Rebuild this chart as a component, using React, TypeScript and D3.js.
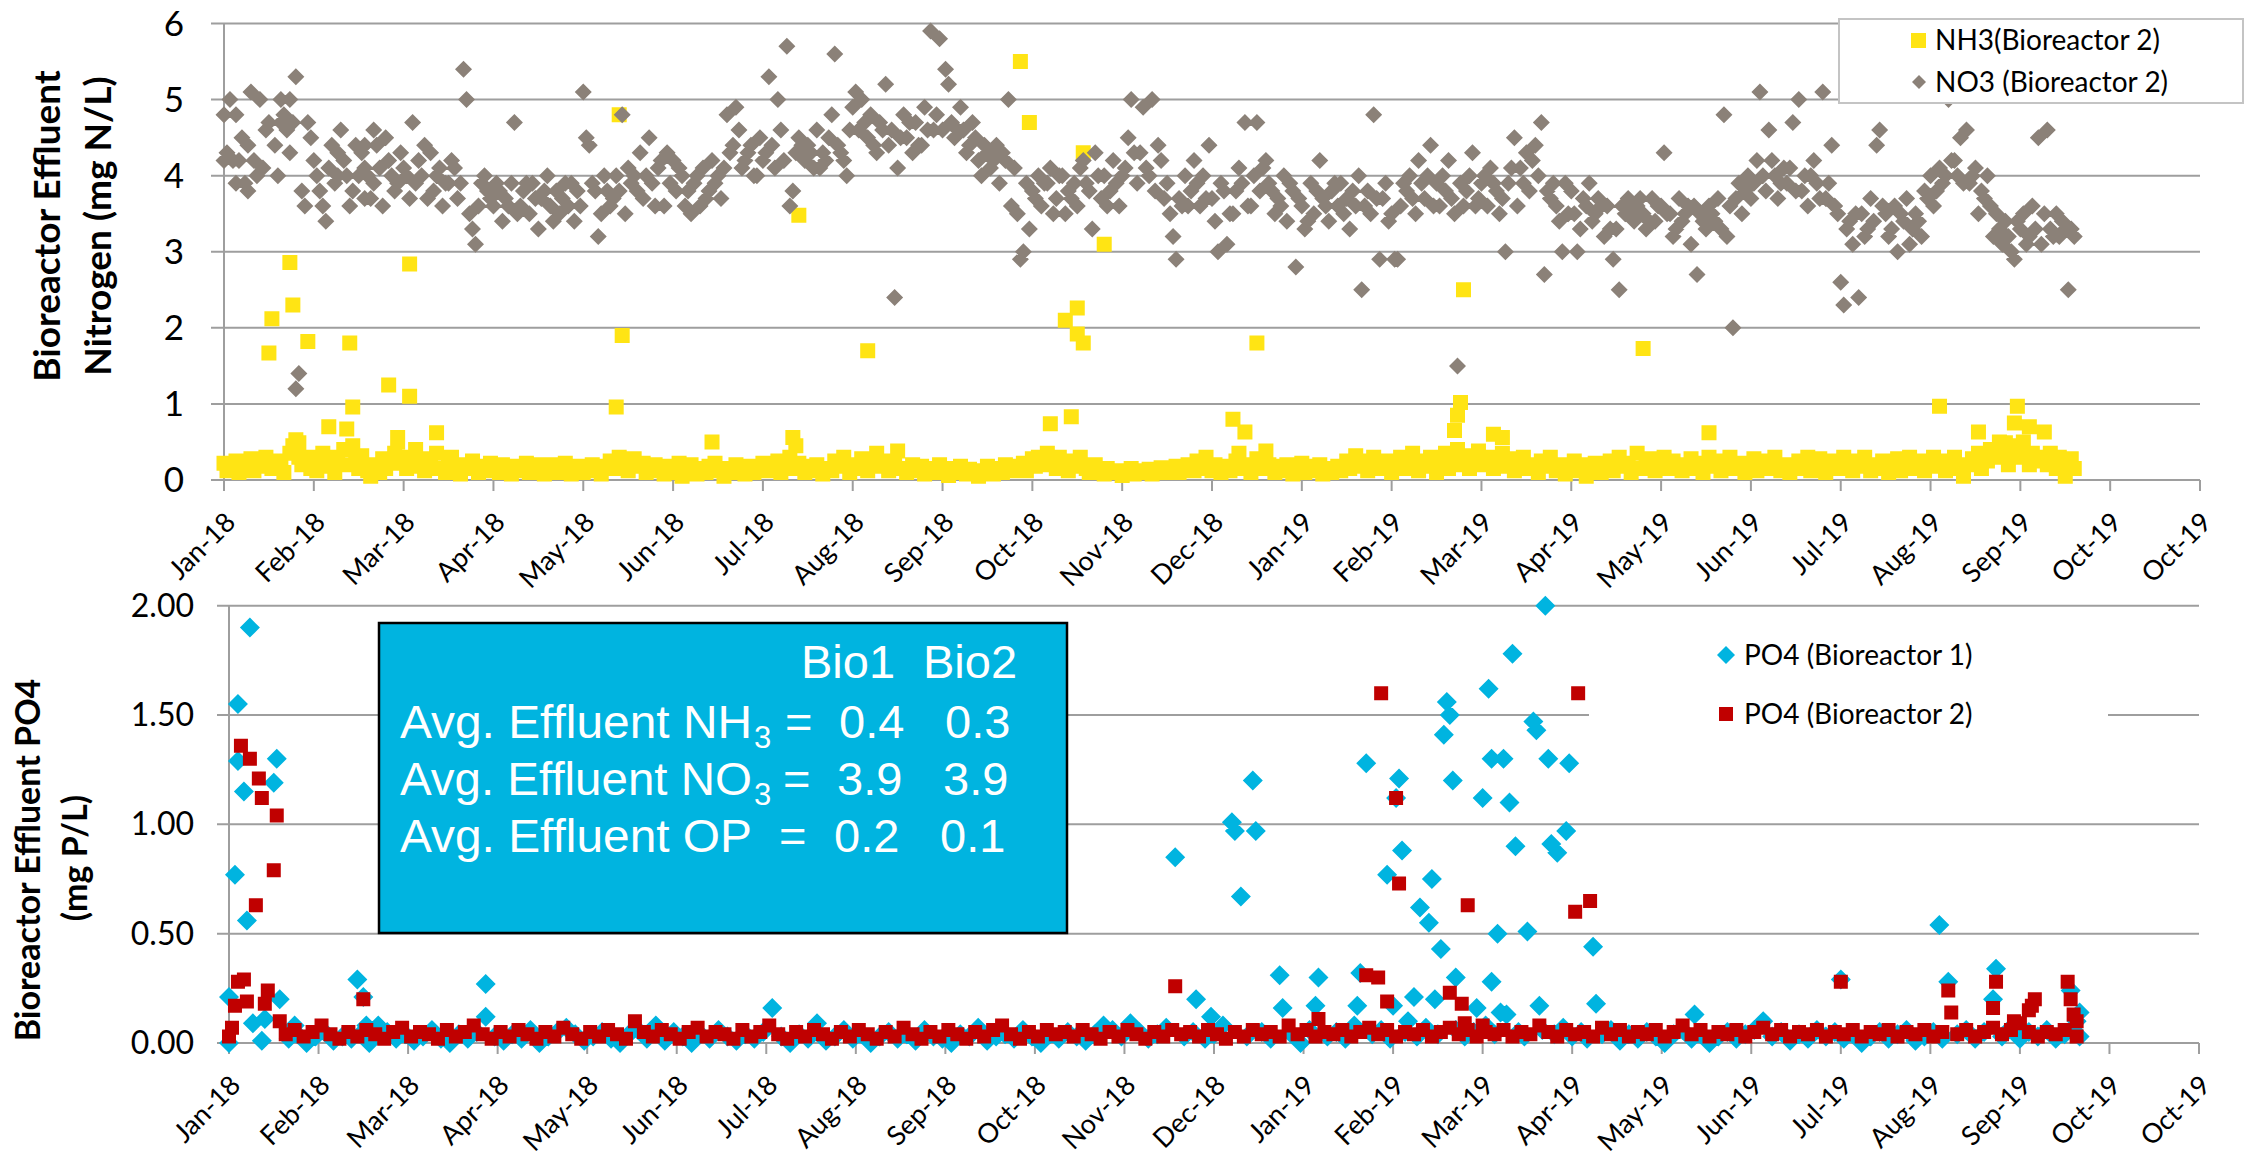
import React from "react";
import * as d3 from "d3";

// ---------- DATA (day = days since 1 Jan 2018) ----------
const xTickDays = [8, 38, 68, 98, 128, 158, 188, 218, 248, 278, 308, 338, 368, 398, 428, 458, 488, 518, 548, 578, 608, 638, 668];
const xTickLabels = ["Jan-18", "Feb-18", "Mar-18", "Apr-18", "May-18", "Jun-18", "Jul-18", "Aug-18", "Sep-18", "Oct-18", "Nov-18", "Dec-18", "Jan-19", "Feb-19", "Mar-19", "Apr-19", "May-19", "Jun-19", "Jul-19", "Aug-19", "Sep-19", "Oct-19", "Oct-19"];
const topYTicks = [0, 1, 2, 3, 4, 5, 6];
const bottomYTicks = [0, 0.5, 1, 1.5, 2];

const nh3Base: [number, number][] = [[8,.22],[9,.12],[10,.18],[12,.25],[13,.1],[14,.2],[16,.15],[17,.28],[18,.12],[20,.22],[21,.18],[22,.3],[24,.15],[26,.25],[27,.2],[28,.1],[30,.35],[31,.45],[33,.3],[34,.2],[35,.25],[37,.15],[38,.3],[39,.12],[40,.22],[41,.35],[43,.18],[44,.25],[45,.1],[46,.3],[48,.4],[49,.2],[51,.45],[52,.28],[53,.15],[54,.32],[56,.12],[57,.05],[58,.2],[60,.1],[61,.28],[62,.15],[64,.22],[65,.35],[66,.5],[68,.3],[69,.15],[71,.25],[72,.4],[73,.18],[75,.12],[76,.28],[77,.2],[79,.35],[80,.15],[82,.1],[83,.22],[84,.3],[86,.18],[87,.08],[88,.2],[90,.15],[91,.25],[93,.1],[94,.18],[95,.12],[97,.22],[98,.15],[100,.1],[101,.2],[103,.13],[104,.08],[106,.18],[107,.12],[109,.22],[110,.1],[112,.15],[113,.2],[115,.08],[116,.14],[118,.2],[119,.1],[121,.16],[122,.22],[124,.08],[125,.12],[127,.18],[128,.1],[130,.14],[131,.2],[133,.12],[134,.08],[136,.18],[137,.25],[139,.15],[140,.3],[142,.2],[143,.12],[145,.28],[146,.18],[148,.22],[149,.1],[151,.15],[152,.2],[154,.12],[155,.08],[157,.18],[158,.1],[160,.22],[161,.05],[163,.12],[164,.2],[166,.08],[167,.15],[169,.1],[170,.18],[172,.22],[173,.12],[175,.05],[176,.15],[178,.1],[179,.2],[181,.12],[182,.08],[184,.18],[185,.1],[187,.15],[188,.22],[190,.12],[191,.18],[193,.25],[194,.1],[196,.2],[197,.3],[199,.15],[200,.22],[202,.1],[203,.18],[205,.12],[206,.2],[208,.08],[209,.15],[211,.12],[212,.25],[214,.18],[215,.3],[217,.1],[218,.2],[220,.15],[221,.28],[223,.12],[224,.2],[226,.35],[227,.18],[229,.25],[230,.12],[232,.2],[233,.38],[235,.15],[236,.1],[238,.2],[239,.12],[241,.18],[242,.08],[244,.15],[245,.1],[247,.2],[248,.12],[250,.06],[251,.15],[253,.1],[254,.18],[256,.08],[257,.14],[259,.1],[260,.05],[262,.12],[263,.18],[265,.08],[266,.15],[268,.1],[269,.2],[271,.12],[272,.18],[273,.15],[275,.22],[276,.12],[278,.28],[279,.18],[280,.3],[282,.2],[283,.35],[285,.25],[286,.15],[287,.3],[288,.2],[290,.12],[291,.25],[292,.18],[294,.3],[296,.15],[297,.1],[299,.2],[300,.12],[302,.08],[303,.15],[305,.1],[306,.12],[308,.06],[309,.1],[311,.15],[312,.08],[314,.12],[315,.1],[317,.14],[318,.08],[320,.12],[321,.16],[323,.1],[324,.14],[326,.18],[327,.1],[329,.15],[330,.2],[332,.12],[333,.25],[335,.15],[336,.3],[338,.12],[339,.2],[341,.1],[342,.18],[344,.12],[346,.25],[347,.35],[348,.15],[350,.2],[351,.1],[353,.28],[354,.15],[356,.38],[357,.2],[359,.1],[360,.18],[362,.12],[363,.2],[365,.08],[366,.15],[368,.22],[369,.1],[371,.18],[372,.12],[374,.2],[375,.08],[377,.15],[378,.1],[380,.18],[381,.12],[383,.25],[384,.15],[386,.32],[387,.18],[389,.25],[390,.12],[392,.3],[393,.2],[395,.15],[396,.25],[398,.1],[399,.22],[401,.3],[402,.15],[404,.2],[405,.35],[407,.12],[408,.25],[410,.18],[411,.3],[413,.1],[414,.25],[416,.35],[417,.15],[418,.28],[420,.4],[421,.2],[423,.32],[424,.15],[426,.28],[427,.38],[429,.2],[430,.3],[432,.15],[433,.25],[435,.35],[436,.18],[438,.28],[439,.12],[441,.22],[442,.3],[444,.15],[445,.2],[447,.1],[448,.25],[450,.18],[451,.3],[453,.12],[454,.2],[456,.08],[457,.18],[459,.25],[460,.12],[462,.2],[463,.05],[465,.15],[466,.22],[468,.1],[469,.18],[471,.25],[472,.12],[474,.3],[475,.18],[477,.22],[478,.1],[480,.35],[481,.15],[483,.2],[484,.28],[486,.12],[487,.22],[489,.3],[490,.15],[492,.25],[493,.18],[495,.12],[496,.2],[498,.28],[499,.15],[501,.22],[502,.1],[504,.3],[505,.18],[507,.25],[508,.12],[510,.2],[511,.3],[513,.15],[514,.22],[516,.1],[517,.18],[519,.28],[520,.12],[522,.2],[523,.25],[525,.15],[526,.3],[528,.12],[529,.2],[531,.1],[532,.18],[534,.25],[535,.15],[537,.3],[538,.12],[540,.2],[541,.28],[543,.1],[544,.18],[546,.25],[547,.15],[549,.3],[550,.2],[552,.12],[553,.25],[555,.18],[556,.3],[558,.12],[559,.2],[561,.15],[562,.25],[564,.1],[565,.18],[567,.28],[568,.12],[570,.22],[571,.3],[573,.15],[574,.25],[576,.12],[577,.2],[579,.3],[580,.18],[582,.25],[583,.12],[585,.22],[586,.3],[588,.15],[589,.05],[591,.2],[592,.28],[594,.35],[595,.15],[597,.25],[598,.4],[600,.3],[601,.5],[603,.35],[604,.2],[605,.45],[607,.3],[608,.35],[609,.5],[611,.2],[612,.35],[614,.25],[615,.3],[617,.2],[618,.35],[620,.15],[621,.3],[622,.25],[623,.05],[624,.18],[625,.28],[626,.15]];
const nh3Peaks: [number, number][] = [[23,1.67],[24,2.12],[30,2.86],[31,2.3],[32,.53],[33,.49],[36,1.82],[43,.7],[49,.67],[50,1.8],[51,.96],[63,1.25],[70,1.1],[70,2.84],[66,.56],[79,.62],[139,.96],[140,4.8],[141,1.9],[171,.5],[198,.56],[199,.45],[200,3.48],[223,1.7],[274,5.5],[277,4.7],[284,.74],[289,2.1],[291,.83],[293,2.26],[293,1.92],[295,1.8],[295,4.3],[302,3.1],[345,.8],[349,.63],[353,1.8],[419,.65],[420,.85],[421,1.02],[422,2.5],[432,.6],[435,.56],[482,1.73],[504,.62],[581,.97],[594,.63],[603,.49],[606,.75],[607,.97],[611,.7],[616,.63]];

const no3Vals: [number, number][] = [[8,4.8],[8,4.2],[10,5.0],[11,4.2],[12,4.8],[12,3.9],[13,4.2],[15,3.9],[16,3.8],[16,4.4],[17,5.1],[18,4.2],[19,4.0],[20,5.0],[22,4.6],[27,5.0],[27,4.7],[29,4.6],[30,5.0],[30,4.3],[31,4.7],[32,5.3],[32,1.2],[33,1.4],[34,3.8],[35,3.6],[36,4.7],[38,4.2],[39,4.0],[40,3.8],[41,3.6],[42,3.4],[44,4.4],[46,4.3],[46,4.0],[47,4.6],[49,4.0],[50,3.6],[52,4.4],[53,4.0],[55,4.1],[55,3.7],[55,4.4],[58,4.6],[58,3.9],[60,4.1],[61,3.6],[62,4.5],[64,4.0],[65,3.8],[67,4.3],[68,4.1],[70,3.7],[71,4.7],[72,3.9],[74,4.0],[75,4.4],[77,4.3],[78,3.8],[80,4.1],[81,3.6],[83,3.9],[84,4.2],[86,3.7],[87,3.9],[88,5.4],[89,5.0],[90,3.5],[91,3.3],[92,3.1],[93,3.6],[95,4.0],[96,3.8],[98,3.6],[99,3.9],[101,3.4],[102,3.7],[104,3.9],[105,4.7],[107,3.6],[108,3.8],[110,3.5],[111,3.9],[113,3.3],[114,3.7],[116,4.0],[117,3.6],[119,3.8],[120,3.5],[122,3.9],[123,3.6],[125,3.4],[126,3.8],[128,5.1],[129,4.5],[130,4.4],[131,3.9],[133,3.2],[134,3.5],[136,3.8],[137,3.6],[139,4.0],[140,3.8],[141,4.8],[142,3.5],[144,3.9],[145,4.0],[147,4.3],[148,3.7],[150,4.5],[151,3.9],[153,4.1],[155,3.6],[156,4.3],[158,4.2],[159,3.8],[161,4.0],[162,3.6],[164,3.5],[165,3.9],[167,3.6],[168,4.1],[170,3.8],[171,4.2],[173,4.0],[174,3.7],[176,4.8],[177,4.3],[179,4.9],[180,4.6],[181,4.1],[183,4.3],[184,4.4],[186,4.0],[187,4.5],[188,4.2],[190,5.3],[191,4.4],[192,4.1],[193,5.0],[194,4.6],[196,5.7],[197,3.6],[198,3.8],[199,4.3],[200,4.5],[202,4.2],[203,4.4],[205,4.1],[206,4.6],[208,4.3],[209,4.2],[211,4.8],[212,5.6],[213,4.4],[215,4.2],[216,4.0],[218,4.9],[219,5.1],[220,4.6],[221,5.0],[223,4.5],[224,4.8],[226,4.3],[227,4.7],[229,5.2],[230,4.4],[231,4.6],[232,2.4],[233,4.1],[235,4.8],[236,4.5],[238,4.3],[239,4.7],[241,4.4],[242,4.9],[244,5.9],[245,4.6],[246,4.8],[247,5.8],[248,4.6],[249,5.4],[250,5.2],[251,4.7],[252,4.5],[254,4.9],[255,4.6],[257,4.4],[258,4.7],[260,4.2],[261,4.0],[263,4.3],[264,4.1],[266,4.4],[267,3.9],[269,4.2],[270,5.0],[271,3.6],[272,4.1],[273,3.5],[274,2.9],[275,3.0],[277,3.3],[278,3.8],[280,4.0],[281,3.6],[283,3.9],[284,4.1],[286,3.7],[287,4.0],[289,3.5],[290,3.8],[292,3.9],[293,3.6],[295,4.2],[296,3.9],[298,3.3],[299,4.3],[301,3.7],[302,4.0],[304,3.8],[305,4.2],[307,3.6],[308,4.0],[310,4.5],[311,5.0],[312,4.3],[313,3.9],[315,4.9],[316,4.1],[318,5.0],[319,3.8],[321,4.2],[322,3.7],[324,3.5],[325,3.2],[326,2.9],[328,3.6],[329,4.0],[331,3.8],[332,4.2],[334,3.6],[335,4.0],[337,4.4],[338,3.7],[340,3.0],[341,3.9],[343,3.1],[344,3.5],[346,3.8],[347,4.1],[349,4.7],[350,3.6],[352,4.0],[353,4.7],[354,3.8],[356,4.2],[357,3.9],[359,3.5],[360,3.7],[362,4.0],[363,3.4],[365,3.8],[366,2.8],[368,3.6],[369,3.3],[371,3.9],[372,3.5],[374,4.2],[375,3.7],[377,3.4],[378,3.8],[380,3.6],[381,3.9],[383,3.7],[384,3.3],[386,3.6],[387,4.0],[388,2.5],[390,3.8],[391,3.5],[392,4.8],[393,3.7],[394,2.9],[396,3.9],[397,3.4],[399,2.9],[400,2.9],[401,3.6],[403,3.8],[404,4.0],[406,3.5],[407,4.2],[409,3.7],[410,4.0],[411,4.4],[413,3.9],[414,3.6],[416,3.8],[417,4.2],[419,3.5],[420,1.5],[421,3.9],[422,3.6],[424,4.0],[425,4.3],[427,3.7],[428,3.9],[430,3.6],[431,4.1],[433,3.8],[434,3.5],[436,3.0],[437,3.9],[439,4.5],[440,3.6],[441,4.1],[443,4.3],[444,3.8],[446,4.4],[447,4.0],[448,4.7],[449,2.7],[451,3.7],[452,3.9],[454,3.4],[455,3.0],[457,3.5],[458,3.8],[460,3.0],[461,3.3],[463,3.6],[464,3.9],[466,3.5],[467,3.7],[469,3.2],[470,3.6],[472,2.9],[473,3.3],[474,2.5],[476,3.5],[477,3.7],[479,3.4],[480,3.6],[482,3.5],[483,3.3],[485,3.7],[486,3.4],[488,3.6],[489,4.3],[491,3.5],[492,3.2],[494,3.7],[495,3.4],[497,3.6],[498,3.1],[500,2.7],[501,3.5],[503,3.3],[504,3.6],[506,3.4],[507,3.7],[509,4.8],[510,3.2],[511,3.6],[512,2.0],[514,3.9],[515,3.5],[517,4.0],[518,3.7],[520,4.2],[521,5.1],[523,3.8],[524,4.6],[526,4.0],[527,3.7],[529,4.1],[530,3.9],[532,4.7],[533,3.8],[534,5.0],[536,4.0],[537,3.6],[539,4.2],[540,3.9],[542,5.1],[543,3.7],[545,4.4],[546,3.6],[548,2.6],[549,2.3],[551,3.4],[552,3.1],[554,2.4],[555,3.5],[557,3.3],[558,3.7],[560,4.4],[561,4.6],[563,3.5],[564,3.2],[566,3.6],[567,3.0],[569,3.4],[570,3.7],[572,3.3],[573,3.5],[575,3.2],[576,3.8],[578,4.0],[579,3.6],[581,4.1],[582,3.9],[584,5.0],[585,4.2],[587,4.0],[588,4.5],[590,4.6],[591,3.9],[593,4.1],[594,3.5],[596,3.7],[597,4.0],[599,3.2],[600,3.5],[602,3.1],[603,3.4],[605,3.0],[606,2.9],[608,3.3],[609,3.5],[611,3.2],[612,3.6],[614,4.5],[615,3.1],[617,4.6],[618,3.3],[620,3.5],[621,3.2],[623,3.3],[624,2.5],[626,3.2]];
const no3More: [number, number][] = [[9,4.3],[14,4.5],[21,4.1],[23,4.7],[25,4.4],[26,4.0],[28,4.8],[37,4.5],[43,4.1],[45,3.9],[48,4.2],[51,3.8],[54,4.3],[56,4.0],[57,3.7],[59,4.4],[63,4.2],[66,3.9],[69,4.0],[73,4.2],[76,3.7],[79,4.0],[82,3.9],[85,4.1],[94,3.9],[97,3.7],[100,3.8],[103,3.6],[106,3.5],[109,3.9],[112,3.7],[115,3.8],[118,3.4],[121,3.7],[124,3.9],[127,3.6],[132,3.8],[135,4.0],[138,3.7],[143,4.1],[146,3.8],[149,4.0],[152,3.6],[154,4.2],[157,3.9],[160,4.1],[163,3.8],[166,4.0],[169,3.7],[172,3.9],[175,4.1],[178,4.4],[182,4.2],[185,4.0],[189,4.3],[195,4.2],[201,4.4],[204,4.3],[207,4.1],[210,4.5],[214,4.3],[217,4.6],[222,4.7],[225,4.4],[228,4.6],[234,4.5],[237,4.7],[240,4.4],[243,4.6],[253,4.6],[256,4.3],[259,4.5],[262,4.4],[265,4.2],[268,4.3],[276,3.9],[279,3.7],[282,3.9],[285,3.5],[288,4.0],[291,3.7],[294,4.1],[297,3.8],[300,4.0],[303,3.6],[306,3.9],[309,4.1],[314,4.3],[317,4.0],[320,4.4],[323,3.9],[327,3.7],[330,3.6],[333,3.9],[336,3.7],[339,3.4],[342,3.8],[345,3.5],[348,3.9],[351,3.6],[355,4.1],[358,3.8],[361,3.6],[364,3.9],[367,3.7],[370,3.4],[373,3.8],[376,3.6],[379,3.9],[382,3.5],[385,3.8],[389,3.6],[395,3.7],[398,3.5],[402,3.9],[405,3.7],[408,3.9],[412,3.6],[415,4.0],[418,3.7],[423,3.8],[426,3.6],[429,4.0],[432,3.9],[435,3.7],[438,4.1],[442,3.9],[445,4.2],[450,3.8],[453,3.6],[456,3.9],[459,3.5],[462,3.7],[465,3.4],[468,3.6],[471,3.3],[475,3.6],[478,3.5],[481,3.7],[484,3.4],[487,3.6],[490,3.5],[493,3.3],[496,3.5],[499,3.6],[502,3.4],[505,3.5],[508,3.3],[513,3.7],[516,3.8],[519,3.9],[522,4.0],[525,4.2],[528,3.9],[531,4.1],[535,3.8],[538,4.0],[541,3.7],[544,3.9],[547,3.5],[550,3.3],[553,3.5],[556,3.2],[559,3.4],[562,3.6],[565,3.3],[568,3.5],[571,3.1],[574,3.4],[577,3.7],[580,3.8],[583,4.0],[586,4.2],[589,3.9],[592,4.0],[595,3.8],[598,3.6],[601,3.3],[604,3.2],[607,3.4],[610,3.1],[613,3.3],[616,3.5],[619,3.2],[622,3.4],[625,3.3]];

const po4Bio1Base: [number, number][] = [[28,.02],[31,.04],[34,.0],[37,.03],[40,.05],[43,.01],[46,.03],[49,.02],[52,.04],[55,.0],[58,.08],[61,.05],[64,.02],[67,.04],[70,.01],[73,.03],[76,.06],[79,.02],[82,.0],[85,.04],[88,.02],[91,.05],[97,.03],[100,.01],[103,.04],[106,.02],[109,.06],[112,.0],[115,.03],[118,.05],[121,.07],[124,.04],[127,.01],[130,.03],[133,.05],[136,.02],[139,.0],[142,.04],[145,.06],[148,.02],[151,.08],[154,.01],[157,.05],[160,.03],[163,.0],[166,.04],[169,.02],[172,.06],[175,.03],[178,.01],[181,.04],[184,.02],[187,.05],[193,.03],[196,.0],[199,.04],[202,.02],[205,.09],[208,.01],[211,.03],[214,.06],[217,.02],[220,.04],[223,.0],[226,.03],[229,.05],[232,.02],[235,.04],[238,.01],[241,.06],[244,.03],[247,.02],[250,.0],[253,.04],[256,.03],[259,.07],[262,.01],[265,.03],[268,.04],[271,.02],[274,.06],[277,.03],[280,.0],[283,.04],[286,.02],[289,.05],[292,.03],[295,.01],[298,.04],[301,.08],[304,.06],[307,.03],[310,.09],[313,.05],[316,.02],[319,.04],[322,.07],[328,.03],[331,.05],[335,.02],[338,.04],[341,.08],[349,.03],[354,.05],[357,.02],[364,.04],[367,.0],[370,.06],[376,.03],[379,.05],[382,.02],[385,.08],[391,.04],[394,.06],[397,.02],[402,.05],[406,.03],[409,.07],[413,.04],[419,.06],[422,.03],[425,.05],[429,.08],[432,.04],[440,.05],[442,.03],[448,.06],[452,.04],[455,.07],[458,.03],[461,.05],[463,.02],[468,.04],[471,.06],[474,.01],[477,.04],[480,.02],[483,.05],[486,.03],[489,.0],[492,.04],[495,.06],[498,.02],[501,.04],[504,.0],[507,.03],[510,.05],[513,.02],[516,.04],[519,.06],[522,.1],[525,.03],[528,.05],[531,.01],[534,.04],[537,.02],[540,.06],[543,.03],[546,.05],[549,.02],[552,.04],[555,.0],[558,.03],[561,.05],[564,.02],[567,.04],[570,.06],[573,.01],[576,.03],[579,.05],[582,.02],[587,.04],[590,.06],[593,.02],[596,.05],[602,.03],[605,.07],[608,.02],[611,.05],[614,.03],[617,.06],[620,.02],[623,.04],[626,.06],[628,.03]];
const po4Bio1Peaks: [number, number][] = [[8,.0],[8,.21],[10,.77],[11,1.55],[11,1.29],[13,1.15],[14,.56],[15,1.9],[16,.09],[19,.01],[20,.11],[23,1.19],[24,1.3],[25,.2],[30,.08],[51,.29],[53,.21],[54,.08],[94,.27],[94,.12],[190,.16],[325,.85],[332,.2],[337,.12],[344,1.01],[345,.97],[347,.67],[351,1.2],[352,.97],[360,.31],[361,.16],[372,.17],[373,.3],[386,.17],[387,.32],[389,1.28],[396,.77],[398,.17],[399,1.12],[400,1.21],[401,.88],[403,.1],[405,.21],[407,.62],[410,.55],[411,.75],[412,.2],[414,.43],[415,1.41],[416,1.56],[417,1.5],[418,1.2],[419,.3],[426,.16],[428,1.12],[430,1.62],[431,1.3],[431,.28],[433,.5],[434,.14],[435,1.3],[436,.13],[437,1.1],[438,1.78],[439,.9],[443,.51],[445,1.47],[446,1.43],[447,.17],[449,2.0],[450,1.3],[451,.91],[453,.87],[456,.97],[457,1.28],[465,.44],[466,.18],[499,.13],[548,.29],[581,.54],[584,.28],[599,.2],[600,.34],[625,.24],[627,.1],[628,.14]];

const po4Bio2Base: [number, number][] = [[27,.04],[30,.06],[33,.03],[36,.05],[39,.08],[42,.04],[45,.02],[48,.05],[51,.03],[54,.06],[57,.04],[60,.02],[63,.05],[66,.07],[69,.03],[72,.05],[75,.04],[78,.02],[81,.06],[84,.03],[87,.05],[90,.08],[93,.04],[96,.02],[99,.05],[102,.03],[105,.06],[108,.04],[111,.02],[114,.05],[117,.03],[120,.07],[123,.04],[126,.02],[129,.05],[132,.03],[135,.06],[138,.04],[141,.02],[144,.1],[147,.05],[150,.03],[153,.06],[156,.04],[159,.02],[162,.05],[165,.07],[168,.03],[171,.05],[174,.04],[177,.02],[180,.06],[183,.03],[186,.05],[189,.08],[192,.04],[195,.02],[198,.05],[201,.03],[204,.06],[207,.04],[210,.02],[213,.05],[216,.03],[219,.06],[222,.04],[225,.02],[228,.05],[231,.03],[234,.07],[237,.04],[240,.02],[243,.05],[246,.03],[249,.06],[252,.04],[255,.02],[258,.05],[261,.03],[264,.06],[267,.08],[270,.04],[273,.02],[276,.05],[279,.03],[282,.06],[285,.04],[288,.05],[291,.03],[294,.06],[297,.04],[300,.02],[303,.05],[306,.03],[309,.06],[312,.04],[315,.02],[318,.05],[321,.03],[324,.06],[327,.04],[330,.05],[333,.03],[336,.06],[339,.04],[342,.02],[345,.05],[348,.03],[351,.06],[354,.04],[357,.05],[360,.03],[363,.08],[366,.04],[369,.06],[372,.03],[375,.05],[378,.04],[381,.06],[384,.03],[387,.05],[390,.07],[393,.04],[396,.06],[399,.03],[402,.05],[405,.04],[408,.06],[411,.03],[414,.05],[417,.07],[420,.04],[423,.06],[426,.03],[429,.05],[432,.04],[435,.06],[438,.03],[441,.05],[444,.04],[447,.08],[450,.05],[453,.03],[456,.06],[459,.04],[462,.05],[465,.03],[468,.07],[471,.04],[474,.06],[477,.03],[480,.05],[483,.04],[486,.06],[489,.03],[492,.05],[495,.08],[498,.04],[501,.06],[504,.03],[507,.05],[510,.04],[513,.06],[516,.03],[519,.05],[522,.07],[525,.04],[528,.06],[531,.03],[534,.05],[537,.04],[540,.06],[543,.03],[546,.05],[549,.04],[552,.06],[555,.03],[558,.05],[561,.04],[564,.06],[567,.03],[570,.05],[573,.04],[576,.06],[579,.03],[582,.05],[587,.04],[590,.06],[593,.03],[596,.05],[599,.07],[602,.04],[605,.06],[608,.09],[611,.05],[614,.03],[617,.05],[620,.04],[623,.06],[627,.03]];
const po4Bio2Peaks: [number, number][] = [[8,.03],[9,.07],[10,.17],[11,.28],[12,1.36],[13,.29],[14,.19],[15,1.3],[17,.63],[18,1.21],[19,1.12],[20,.18],[21,.24],[23,.79],[24,1.04],[25,.1],[53,.2],[325,.26],[373,.11],[389,.31],[393,.3],[394,1.6],[396,.19],[399,1.12],[400,.73],[417,.23],[421,.18],[422,.09],[423,.63],[428,.08],[459,.6],[460,1.6],[464,.65],[548,.28],[584,.24],[585,.14],[599,.16],[600,.28],[606,.1],[611,.15],[612,.17],[613,.2],[624,.28],[625,.2],[626,.13],[627,.1]];

const topLegend = ["NH3(Bioreactor 2)", "NO3 (Bioreactor 2)"];
const bottomLegend = ["PO4 (Bioreactor 1)", "PO4 (Bioreactor 2)"];
const topTitle = ["Bioreactor Effluent", "Nitrogen (mg N/L)"];
const bottomTitle = ["Bioreactor Effluent PO4", "(mg P/L)"];
const boxHeader = ["Bio1", "Bio2"];
const boxRows = [
  { label: "Avg. Effluent NH", sub: "3", bio1: "0.4", bio2: "0.3" },
  { label: "Avg. Effluent NO", sub: "3", bio1: "3.9", bio2: "3.9" },
  { label: "Avg. Effluent OP", sub: "", bio1: "0.2", bio2: "0.1" },
];

// ---------- STYLE ----------
const C_NH3 = "#FFE414";
const C_NO3 = "#8B8178";
const C_BIO1 = "#00B4E0";
const C_BIO2 = "#C00000";
const C_GRID = "#9E9E9E";
const FONT = "Lato, 'Open Sans', sans-serif";
const BOXFONT = "'Liberation Sans', Arial, sans-serif";

function diamondsPath(pts: [number, number][], x: any, y: any, r: number) {
  return pts.map(([d, v]) => {
    const cx = x(d), cy = y(v);
    return `M${cx},${cy - r}L${cx + r},${cy}L${cx},${cy + r}L${cx - r},${cy}Z`;
  }).join("");
}
function squaresPath(pts: [number, number][], x: any, y: any, s: number) {
  const h = s / 2;
  return pts.map(([d, v]) => {
    const cx = x(d), cy = y(v);
    return `M${cx - h},${cy - h}h${s}v${s}h${-s}Z`;
  }).join("");
}

function XAxis({ x, y0 }: { x: any; y0: number }) {
  return (
    <g>
      <line x1={x.range()[0]} x2={x.range()[1]} y1={y0} y2={y0} stroke={C_GRID} strokeWidth={2} />
      {xTickDays.map((d, i) => (
        <g key={i}>
          <line x1={x(d)} x2={x(d)} y1={y0} y2={y0 + 11} stroke={C_GRID} strokeWidth={2} />
          <text
            transform={`translate(${x(d) + 13},${y0 + 44}) rotate(-45)`}
            textAnchor="end"
            fontFamily={FONT}
            fontSize={27}
            fill="#000"
          >
            {xTickLabels[i]}
          </text>
        </g>
      ))}
    </g>
  );
}

export default function App() {
  const xTop = d3.scaleLinear().domain([8, 668]).range([224, 2200]);
  const yTop = d3.scaleLinear().domain([0, 6]).range([480, 23.5]);
  const xBot = d3.scaleLinear().domain([8, 668]).range([229, 2199]);
  const yBot = d3.scaleLinear().domain([0, 2]).range([1043, 605.7]);
  const fmt2 = d3.format(".2f");

  const nh3All = nh3Base.concat(nh3Peaks);
  const no3All = no3Vals.concat(no3More);
  const bio1All = po4Bio1Base.concat(po4Bio1Peaks);
  const bio2All = po4Bio2Base.concat(po4Bio2Peaks);

  return (
    <svg width={2246} height={1153} style={{ position: "absolute", left: 0, top: 0, display: "block", background: "#fff" }}>
      <rect x={0} y={0} width={2246} height={1153} fill="#fff" />
      {/* ---------- TOP CHART ---------- */}
      {topYTicks.map((t) => (
        <g key={"tg" + t}>
          <line x1={211} x2={2200} y1={yTop(t)} y2={yTop(t)} stroke={C_GRID} strokeWidth={2} />
          <text x={184} y={yTop(t) + 12} textAnchor="end" fontFamily={FONT} fontSize={35}>{t}</text>
        </g>
      ))}
      <line x1={224} x2={224} y1={yTop(6)} y2={491} stroke={C_GRID} strokeWidth={2} />
      <XAxis x={xTop} y0={480} />
      <path d={squaresPath(nh3All, xTop, yTop, 15)} fill={C_NH3} />
      <path d={diamondsPath(no3All, xTop, yTop, 8.5)} fill={C_NO3} />
      {/* top legend */}
      <rect x={1839} y={19} width={404} height={84} fill="#fff" stroke="#C4C4C4" strokeWidth={2} />
      <rect x={1911} y={33} width={15} height={15} fill={C_NH3} />
      <text x={1935} y={50} fontFamily={FONT} fontSize={28}>{topLegend[0]}</text>
      <path d={`M1919,75L1926,82L1919,89L1912,82Z`} fill={C_NO3} />
      <text x={1935} y={92} fontFamily={FONT} fontSize={28}>{topLegend[1]}</text>
      {/* top title */}
      <text transform="translate(60,226) rotate(-90)" textAnchor="middle" fontFamily={FONT} fontWeight="bold" fontSize={37}>{topTitle[0]}</text>
      <text transform="translate(111,226) rotate(-90)" textAnchor="middle" fontFamily={FONT} fontWeight="bold" fontSize={37}>{topTitle[1]}</text>

      {/* ---------- BOTTOM CHART ---------- */}
      {bottomYTicks.map((t) => (
        <g key={"bg" + t}>
          <line x1={217} x2={2199} y1={yBot(t)} y2={yBot(t)} stroke={C_GRID} strokeWidth={2} />
          <text x={194} y={yBot(t) + 11} textAnchor="end" fontFamily={FONT} fontSize={32}>{fmt2(t)}</text>
        </g>
      ))}
      <line x1={229} x2={229} y1={yBot(2)} y2={1054} stroke={C_GRID} strokeWidth={2} />
      <XAxis x={xBot} y0={1043} />
      <path d={diamondsPath(bio1All, xBot, yBot, 10)} fill={C_BIO1} />
      <path d={squaresPath(bio2All, xBot, yBot, 14)} fill={C_BIO2} />
      {/* bottom legend */}
      <rect x={1589} y={612} width={519} height={175} fill="#fff" />
      <path d={`M1726,646L1735,655L1726,664L1717,655Z`} fill={C_BIO1} />
      <text x={1744} y={665} fontFamily={FONT} fontSize={28}>{bottomLegend[0]}</text>
      <rect x={1719} y={707} width={14} height={14} fill={C_BIO2} />
      <text x={1744} y={724} fontFamily={FONT} fontSize={28}>{bottomLegend[1]}</text>
      {/* bottom title */}
      <text transform="translate(40,860) rotate(-90)" textAnchor="middle" fontFamily={FONT} fontWeight="bold" fontSize={34}>{bottomTitle[0]}</text>
      <text transform="translate(87,858) rotate(-90)" textAnchor="middle" fontFamily={FONT} fontWeight="bold" fontSize={34}>{bottomTitle[1]}</text>

      {/* ---------- TEXT BOX ---------- */}
      <rect x={379} y={623} width={688} height={310} fill={C_BIO1} stroke="#000" strokeWidth={2.5} />
      <g fontFamily={BOXFONT} fill="#fff" fontSize={47}>
        <text x={801} y={678}>{boxHeader[0]}</text>
        <text x={923} y={678}>{boxHeader[1]}</text>
        {boxRows.map((r, i) => {
          const base = [738, 795, 852][i];
          const eqX = [785, 783, 779][i];
          const v1X = [839, 837, 834][i];
          const v2X = [945, 943, 940][i];
          return (
            <g key={i}>
              <text x={400} y={base} textLength={352} lengthAdjust="spacingAndGlyphs">{r.label}</text>
              {r.sub && <text x={754} y={base + 10} fontSize={31}>{r.sub}</text>}
              <text x={eqX} y={base}>=</text>
              <text x={v1X} y={base}>{r.bio1}</text>
              <text x={v2X} y={base}>{r.bio2}</text>
            </g>
          );
        })}
      </g>
    </svg>
  );
}
